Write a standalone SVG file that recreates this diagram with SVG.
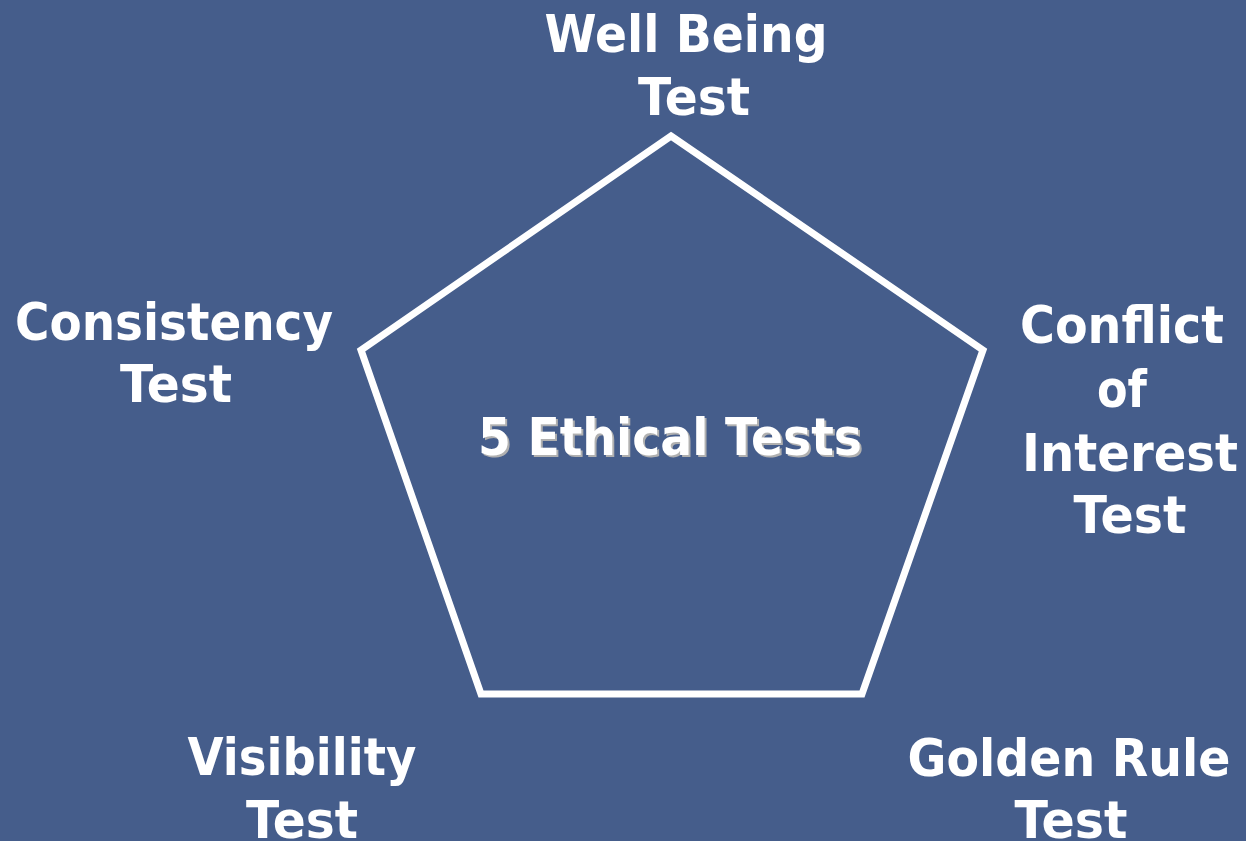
<svg xmlns="http://www.w3.org/2000/svg" width="1246" height="841" viewBox="0 0 1246 841">
<style>
.lbl{font-family:"DejaVu Sans","Liberation Sans",sans-serif;font-weight:bold;font-size:52px;fill:#ffffff;text-anchor:middle}
.title{font-family:"DejaVu Sans","Liberation Sans",sans-serif;font-weight:bold;font-size:52px;text-anchor:middle}
</style>
<rect x="0" y="0" width="1246" height="841" fill="#455D8B"/>
<g id="connectors">
<polygon id="pentagon" points="671,136 983,350 862,694 481,694 361,350" fill="none" stroke="#ffffff" stroke-width="7" stroke-linejoin="miter"/>
</g>
<g id="center">
<text class="title" x="672" y="457" fill="#b0b0b0" textLength="384" lengthAdjust="spacingAndGlyphs">5 Ethical Tests</text>
<text class="title" x="670" y="455" fill="#ffffff" textLength="384" lengthAdjust="spacingAndGlyphs">5 Ethical Tests</text>
</g>
<g id="well-being">
<text class="lbl" x="686" y="52" textLength="283" lengthAdjust="spacingAndGlyphs">Well Being</text>
<text class="lbl" x="694" y="115" textLength="112" lengthAdjust="spacingAndGlyphs">Test</text>
</g>
<g id="consistency">
<text class="lbl" x="174" y="340" textLength="318" lengthAdjust="spacingAndGlyphs">Consistency</text>
<text class="lbl" x="176" y="402" textLength="112" lengthAdjust="spacingAndGlyphs">Test</text>
</g>
<g id="conflict">
<text class="lbl" x="1122" y="343" textLength="204" lengthAdjust="spacingAndGlyphs">Conflict</text>
<text class="lbl" x="1122" y="407" textLength="50" lengthAdjust="spacingAndGlyphs">of</text>
<text class="lbl" x="1130" y="471" textLength="216" lengthAdjust="spacingAndGlyphs">Interest</text>
<text class="lbl" x="1130" y="533" textLength="113" lengthAdjust="spacingAndGlyphs">Test</text>
</g>
<g id="visibility">
<text class="lbl" x="302" y="775" textLength="229" lengthAdjust="spacingAndGlyphs">Visibility</text>
<text class="lbl" x="302" y="838" textLength="112" lengthAdjust="spacingAndGlyphs">Test</text>
</g>
<g id="golden-rule">
<text class="lbl" x="1069" y="776" textLength="323" lengthAdjust="spacingAndGlyphs">Golden Rule</text>
<text class="lbl" x="1071" y="838" textLength="113" lengthAdjust="spacingAndGlyphs">Test</text>
</g>
</svg>
